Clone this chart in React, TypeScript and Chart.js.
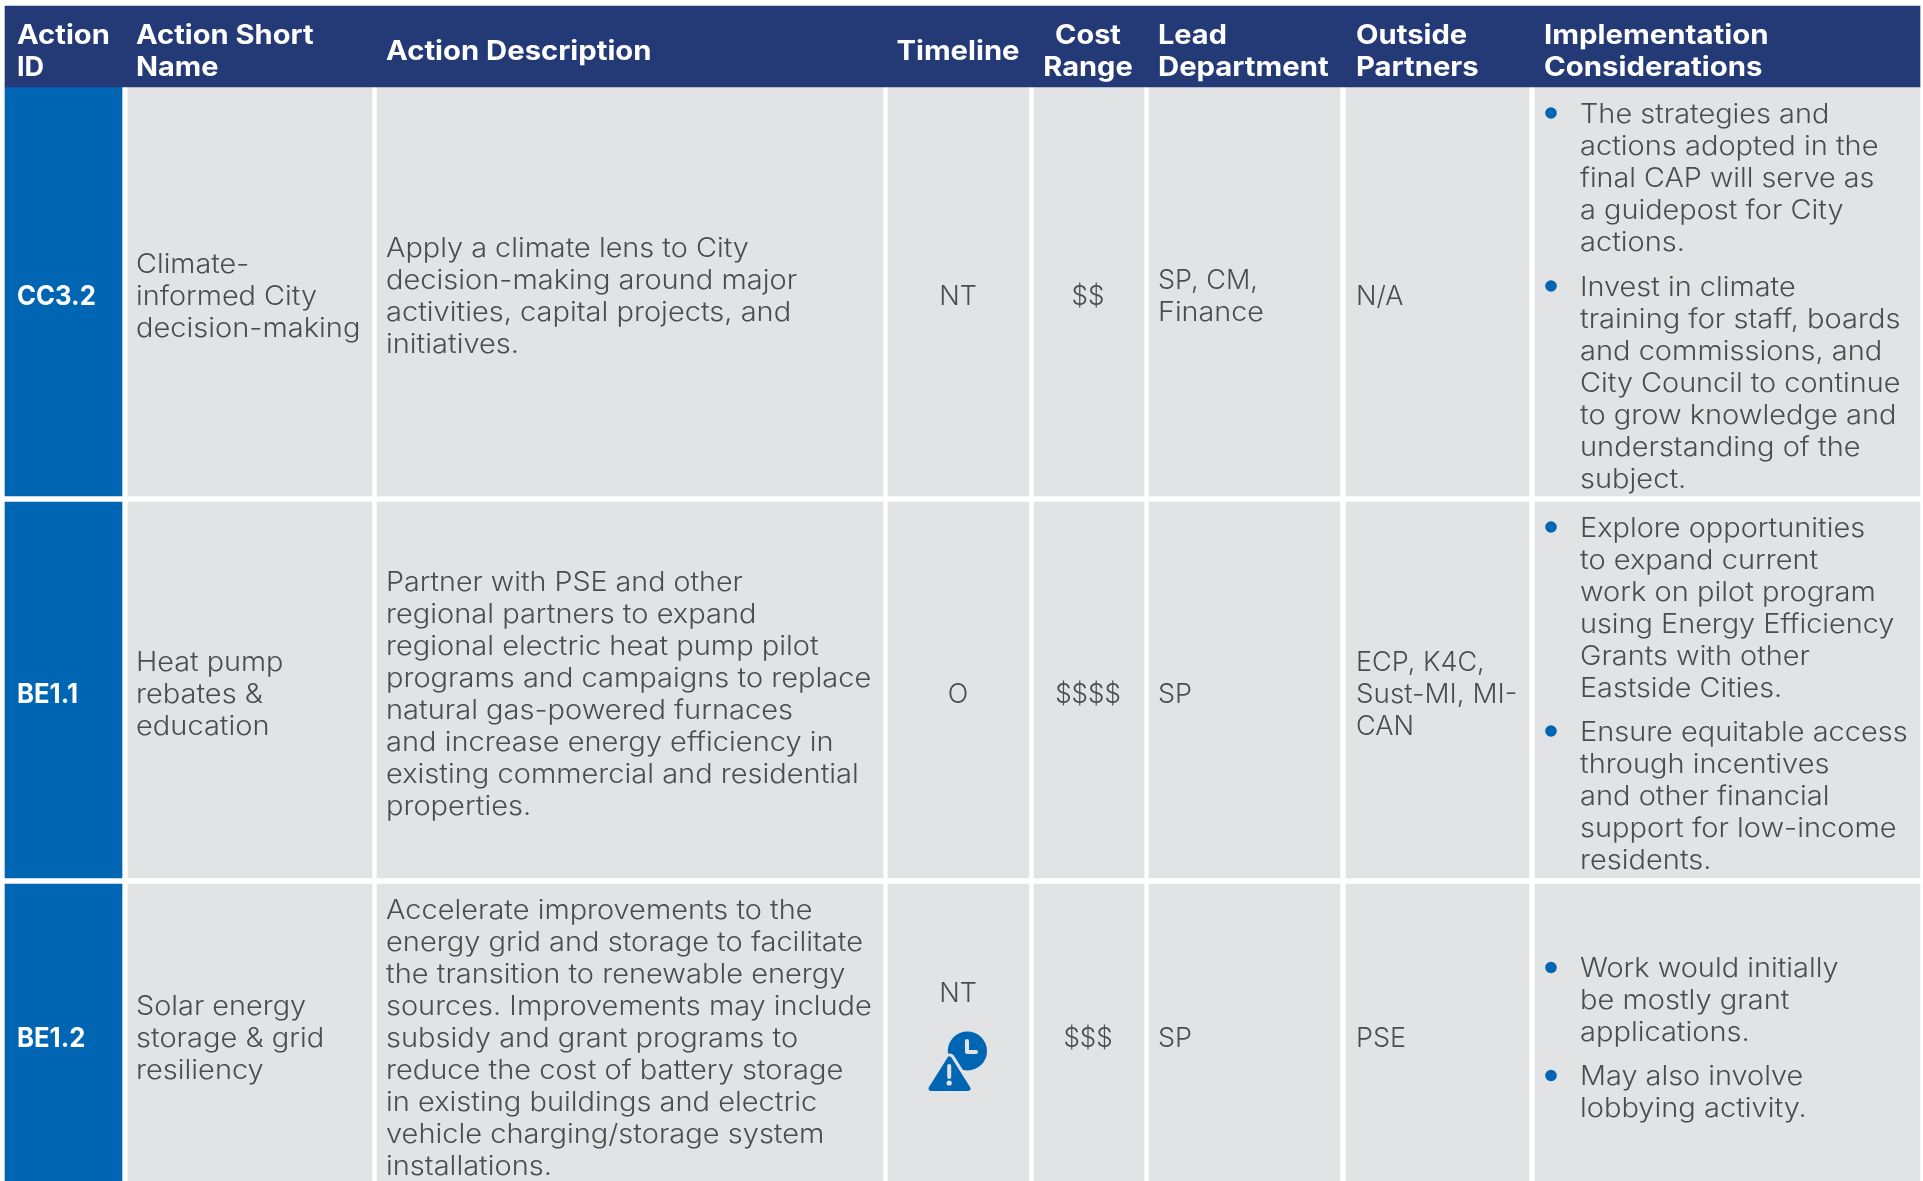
import React, { useEffect, useRef } from "react";
import { Chart, registerables } from "chart.js";

Chart.register(...registerables);

const WIDTH = 1923;
const HEIGHT = 1181;

const headers = [
  ["Action", "ID"],
  ["Action Short", "Name"],
  ["Action Description"],
  ["Timeline"],
  ["Cost", "Range"],
  ["Lead", "Department"],
  ["Outside", "Partners"],
  ["Implementation", "Considerations"],
];
const actionIds = ["CC3.2", "BE1.1", "BE1.2"];
const shortNames = [
  ["Climate-", "informed City", "decision-making"],
  ["Heat pump", "rebates &", "education"],
  ["Solar energy", "storage & grid", "resiliency"],
];
const descriptions = [
  ["Apply a climate lens to City", "decision-making around major", "activities, capital projects, and", "initiatives."],
  ["Partner with PSE and other", "regional partners to expand", "regional electric heat pump pilot", "programs and campaigns to replace", "natural gas-powered furnaces", "and increase energy efficiency in", "existing commercial and residential", "properties."],
  ["Accelerate improvements to the", "energy grid and storage to facilitate", "the transition to renewable energy", "sources. Improvements may include", "subsidy and grant programs to", "reduce the cost of battery storage", "in existing buildings and electric", "vehicle charging/storage system", "installations."],
];
const timelines = ["NT", "O", "NT"];
const costs = ["$$", "$$$$", "$$$"];
const leads = [["SP, CM,", "Finance"], ["SP"], ["SP"]];
const partners = [["N/A"], ["ECP, K4C,", "Sust-MI, MI-", "CAN"], ["PSE"]];
const considerations = [
  [
    ["The strategies and", "actions adopted in the", "final CAP will serve as", "a guidepost for City", "actions."],
    ["Invest in climate", "training for staff, boards", "and commissions, and", "City Council to continue", "to grow knowledge and", "understanding of the", "subject."],
  ],
  [
    ["Explore opportunities", "to expand current", "work on pilot program", "using Energy Efficiency", "Grants with other", "Eastside Cities."],
    ["Ensure equitable access", "through incentives", "and other financial", "support for low-income", "residents."],
  ],
  [
    ["Work would initially", "be mostly grant", "applications."],
    ["May also involve", "lobbying activity."],
  ],
];

// layout of the table in picture units
const columnEdges = [
  [5, 122], [128, 372], [377, 883], [888, 1029], [1034, 1144], [1149, 1340], [1346, 1529], [1535, 1920],
];
const rowEdges = [[87, 496], [502, 878], [884, 1181]];
const headerEdges = [6, 87];
const rowCentres = [295.6, 693.5, 1037.5];
const bulletStarts = [[113, 286], [527, 731], [967.5, 1075.5]];

const NAVY = "#233a77";
const BLUE = "#0066b3";
const GREY = "#e2e3e5";
const INK = "#4c4c4e";
const LINE = 32;
const BODY_FONT = '300 26.5px "Inter"';
const BOLD_FONT = '700 26.5px "Inter"';
const TEXT_DROP = 1.8;

// Inter is narrower than the reference's face in its lower case only
function stretch(text: string, base: number, extra: number) {
  const letters = text.replace(/[^A-Za-z]/g, "");
  const lower = text.replace(/[^a-z]/g, "");
  return base + extra * (letters.length ? lower.length / letters.length : 0);
}
const bodyFx = (t: string) => stretch(t, 1.02, 0.075);
const headFx = (t: string) => stretch(t, 1.02, 0.095);

function put(ctx: CanvasRenderingContext2D, text: string, x: number, y: number, align: "left" | "center", font: string, color: string, fx: number) {
  ctx.save();
  ctx.font = font;
  ctx.fillStyle = color;
  ctx.textBaseline = "middle";
  ctx.textAlign = align;
  ctx.translate(x, y + TEXT_DROP);
  ctx.scale(fx, 1);
  ctx.fillText(text, 0, 0);
  ctx.restore();
}

function block(ctx: CanvasRenderingContext2D, lines: string[], x: number, cy: number, align: "left" | "center", font: string, color: string, fxOf: (t: string) => number) {
  const top = cy - ((lines.length - 1) * LINE) / 2;
  lines.forEach((l, i) => put(ctx, l, x, top + i * LINE, align, font, color, fxOf(l)));
}

function drawIcon(ctx: CanvasRenderingContext2D, px: (v: number) => number, py: (v: number) => number) {
  const s = (v: number) => px(v) - px(0);
  ctx.save();
  ctx.fillStyle = BLUE;
  ctx.beginPath();
  ctx.arc(px(967.4), py(1051), s(19.6), 0, Math.PI * 2);
  ctx.fill();
  ctx.strokeStyle = GREY;
  ctx.lineWidth = 4;
  ctx.lineCap = "round";
  ctx.lineJoin = "round";
  ctx.beginPath();
  ctx.moveTo(px(967), py(1041));
  ctx.lineTo(px(967), py(1052));
  ctx.lineTo(px(976), py(1052));
  ctx.stroke();
  const tri = () => {
    ctx.beginPath();
    ctx.moveTo(px(949.5), py(1059));
    ctx.lineTo(px(968), py(1088.5));
    ctx.lineTo(px(931), py(1088.5));
    ctx.closePath();
  };
  ctx.strokeStyle = GREY;
  ctx.lineWidth = 11;
  tri();
  ctx.stroke();
  ctx.strokeStyle = BLUE;
  ctx.fillStyle = BLUE;
  ctx.lineWidth = 5;
  tri();
  ctx.stroke();
  ctx.fill();
  ctx.strokeStyle = GREY;
  ctx.lineWidth = 4;
  ctx.beginPath();
  ctx.moveTo(px(949.2), py(1066));
  ctx.lineTo(px(949.2), py(1077));
  ctx.stroke();
  ctx.fillStyle = GREY;
  ctx.beginPath();
  ctx.arc(px(949.2), py(1083), 2.6, 0, Math.PI * 2);
  ctx.fill();
  ctx.restore();
}

const tablePlugin = {
  id: "tableText",
  afterDatasetsDraw(chart: any) {
    const { ctx, scales } = chart;
    const px = (v: number) => scales.x.getPixelForValue(v);
    const py = (v: number) => scales.y.getPixelForValue(v);
    const headerX = [17, 136, 386, 958, 1088, 1158, 1356, 1544];
    const aligns: ("left" | "center")[] = ["left", "left", "left", "center", "center", "left", "left", "left"];
    headers.forEach((h, i) => block(ctx, h, px(headerX[i]), py(50), aligns[i], BOLD_FONT, "#ffffff", headFx));
    rowCentres.forEach((c, r) => {
      const cy = py(c);
      put(ctx, actionIds[r], px(17), cy, "left", '700 26.5px "Inter"', "#ffffff", 0.97);
      block(ctx, shortNames[r], px(136), cy, "left", BODY_FONT, INK, bodyFx);
      block(ctx, descriptions[r], px(386), cy, "left", BODY_FONT, INK, bodyFx);
      put(ctx, costs[r], px(1088), cy, "center", BODY_FONT, INK, 0.98);
      block(ctx, leads[r], px(1158), cy, "left", BODY_FONT, INK, bodyFx);
      block(ctx, partners[r], px(1356), cy, "left", BODY_FONT, INK, bodyFx);
      const tY = r === 2 ? py(992) : cy;
      put(ctx, timelines[r], px(958), tY, "center", BODY_FONT, INK, bodyFx(timelines[r]));
      considerations[r].forEach((lines, b) => {
        const y0 = py(bulletStarts[r][b]);
        ctx.fillStyle = BLUE;
        ctx.beginPath();
        ctx.arc(px(1551), y0, 5.8, 0, Math.PI * 2);
        ctx.fill();
        lines.forEach((l, i) => put(ctx, l, px(1580), y0 + i * LINE, "left", BODY_FONT, INK, bodyFx(l)));
      });
    });
    drawIcon(ctx, px, py);
  },
};

export default function App() {
  const ref = useRef<HTMLCanvasElement>(null);
  useEffect(() => {
    if (!ref.current) return;
    const columnSets = columnEdges.map(([a, b], col) => ({
      label: headers[col].join(" "),
      data: rowEdges.map(([top, bottom]) => ({ x: (a + b) / 2, y: [top, bottom] })),
      backgroundColor: col === 0 ? BLUE : GREY,
      barThickness: b - a,
      grouped: false,
      borderWidth: 0,
      borderSkipped: false,
    }));
    const headerSet = {
      label: "Header",
      data: [{ x: (columnEdges[0][0] + columnEdges[7][1]) / 2, y: headerEdges }],
      backgroundColor: NAVY,
      barThickness: columnEdges[7][1] - columnEdges[0][0],
      grouped: false,
      borderWidth: 0,
      borderSkipped: false,
    };
    const chart = new Chart(ref.current, {
      type: "bar",
      data: { datasets: [headerSet, ...columnSets] as any },
      options: {
        animation: false,
        responsive: false,
        layout: { padding: 0 },
        plugins: { legend: { display: false }, tooltip: { enabled: false } },
        scales: {
          x: { type: "linear", min: 0, max: WIDTH, display: false, offset: false },
          y: { type: "linear", min: 0, max: HEIGHT, reverse: true, display: false },
        },
      },
      plugins: [tablePlugin as any],
    });
    return () => chart.destroy();
  }, []);
  return (
    <div style={{ position: "absolute", left: 0, top: 0, width: WIDTH, height: HEIGHT, background: "#ffffff" }}>
      <canvas ref={ref} width={WIDTH} height={HEIGHT} style={{ display: "block" }} />
    </div>
  );
}
